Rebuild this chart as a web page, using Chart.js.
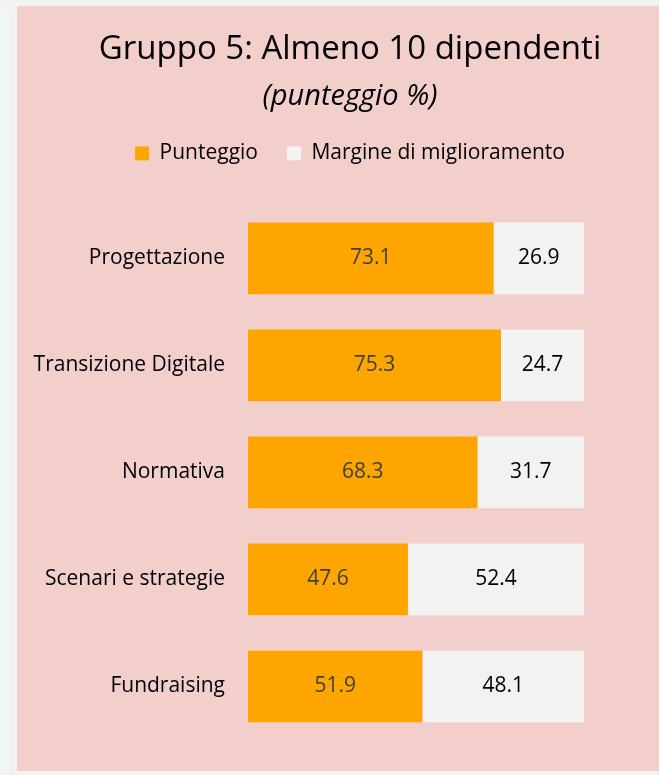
<!DOCTYPE html>
<html>
<head>
<meta charset="utf-8">
<script src="https://cdn.jsdelivr.net/npm/chart.js@4/dist/chart.umd.min.js"></script>
<style>
    body { margin: 0; background: #f2f2f2; width: 659px; height: 775px; overflow: hidden; position: relative; }
    #strip { position: absolute; left: 0; top: 10px; width: 9px; height: 765px; background: #eef7f0; }
    #panel { position: absolute; left: 17px; top: 6px; width: 642px; height: 765px; background: #f3cfcc; overflow: hidden; }
</style>
</head>
<body>
<div id="strip"></div>
<div id="panel"><canvas id="chart" width="660" height="765"></canvas></div>
<script>
// Dati del grafico
const categorie = ['Progettazione', 'Transizione Digitale', 'Normativa', 'Scenari e strategie', 'Fundraising'];
const punteggio = [73.1, 75.3, 68.3, 47.6, 51.9];
const margine = [26.9, 24.7, 31.7, 52.4, 48.1];

const FONT = "'Open Sans', sans-serif";

// Etichette dei valori al centro di ogni barra
const etichetteValori = {
    id: 'etichetteValori',
    afterDatasetsDraw(chart) {
        const ctx = chart.ctx;
        ctx.save();
        ctx.font = '21px ' + FONT;
        ctx.textAlign = 'center';
        ctx.textBaseline = 'middle';
        chart.data.datasets.forEach((ds, i) => {
            ctx.fillStyle = i === 0 ? '#404040' : '#000000';
            chart.getDatasetMeta(i).data.forEach((bar, j) => {
                ctx.fillText(ds.data[j].toFixed(1), (bar.x + bar.base) / 2, bar.y);
            });
        });
        ctx.restore();
    }
};

new Chart(document.getElementById('chart').getContext('2d'), {
    type: 'bar',
    data: {
        labels: categorie,
        datasets: [{
            label: 'Punteggio',
            data: punteggio,
            backgroundColor: '#ffa500',
            barPercentage: 0.67,
            categoryPercentage: 1
        }, {
            label: 'Margine di miglioramento',
            data: margine,
            backgroundColor: '#f2f2f2',
            barPercentage: 0.67,
            categoryPercentage: 1
        }]
    },
    options: {
        indexAxis: 'y',
        responsive: false,
        animation: false,
        layout: { padding: { left: 8, right: 2, top: 0, bottom: 31 } },
        scales: {
            x: {
                stacked: true,
                min: 0,
                max: 100,
                position: 'top',
                grid: { display: false, drawTicks: false },
                border: { display: false },
                ticks: { display: false },
                afterFit: (scale) => { scale.height = 31; }
            },
            y: {
                stacked: true,
                grid: { display: false, drawTicks: false },
                border: { display: true, color: '#e2d6d6', width: 1 },
                ticks: { color: '#000000', padding: 23, font: { family: FONT, size: 21 } },
                afterFit: (scale) => {
                    scale.width = 223;
                    scale.paddingTop = 0;
                    scale.paddingBottom = 0;
                }
            },
            // asse vuoto a destra, solo per lo spazio
            destra: {
                axis: 'y',
                type: 'category',
                position: 'right',
                grid: { display: false, drawTicks: false },
                border: { display: false },
                ticks: { display: false },
                afterFit: (scale) => { scale.width = 91; }
            }
        },
        plugins: {
            title: {
                display: true,
                text: 'Gruppo 5: Almeno 10 dipendenti',
                color: '#000000',
                font: { family: FONT, size: 33, weight: 'normal' },
                padding: { top: 24, bottom: 0 }
            },
            subtitle: {
                display: true,
                text: '(punteggio %)',
                color: '#000000',
                font: { family: FONT, size: 29, style: 'italic' },
                padding: { top: 9.5, bottom: 0 }
            },
            legend: {
                display: true,
                position: 'top',
                labels: {
                    color: '#000000',
                    boxWidth: 14,
                    boxHeight: 14,
                    padding: 29,
                    font: { family: FONT, size: 21 }
                }
            },
            tooltip: { enabled: false }
        }
    },
    plugins: [etichetteValori]
});
</script>
</body>
</html>
